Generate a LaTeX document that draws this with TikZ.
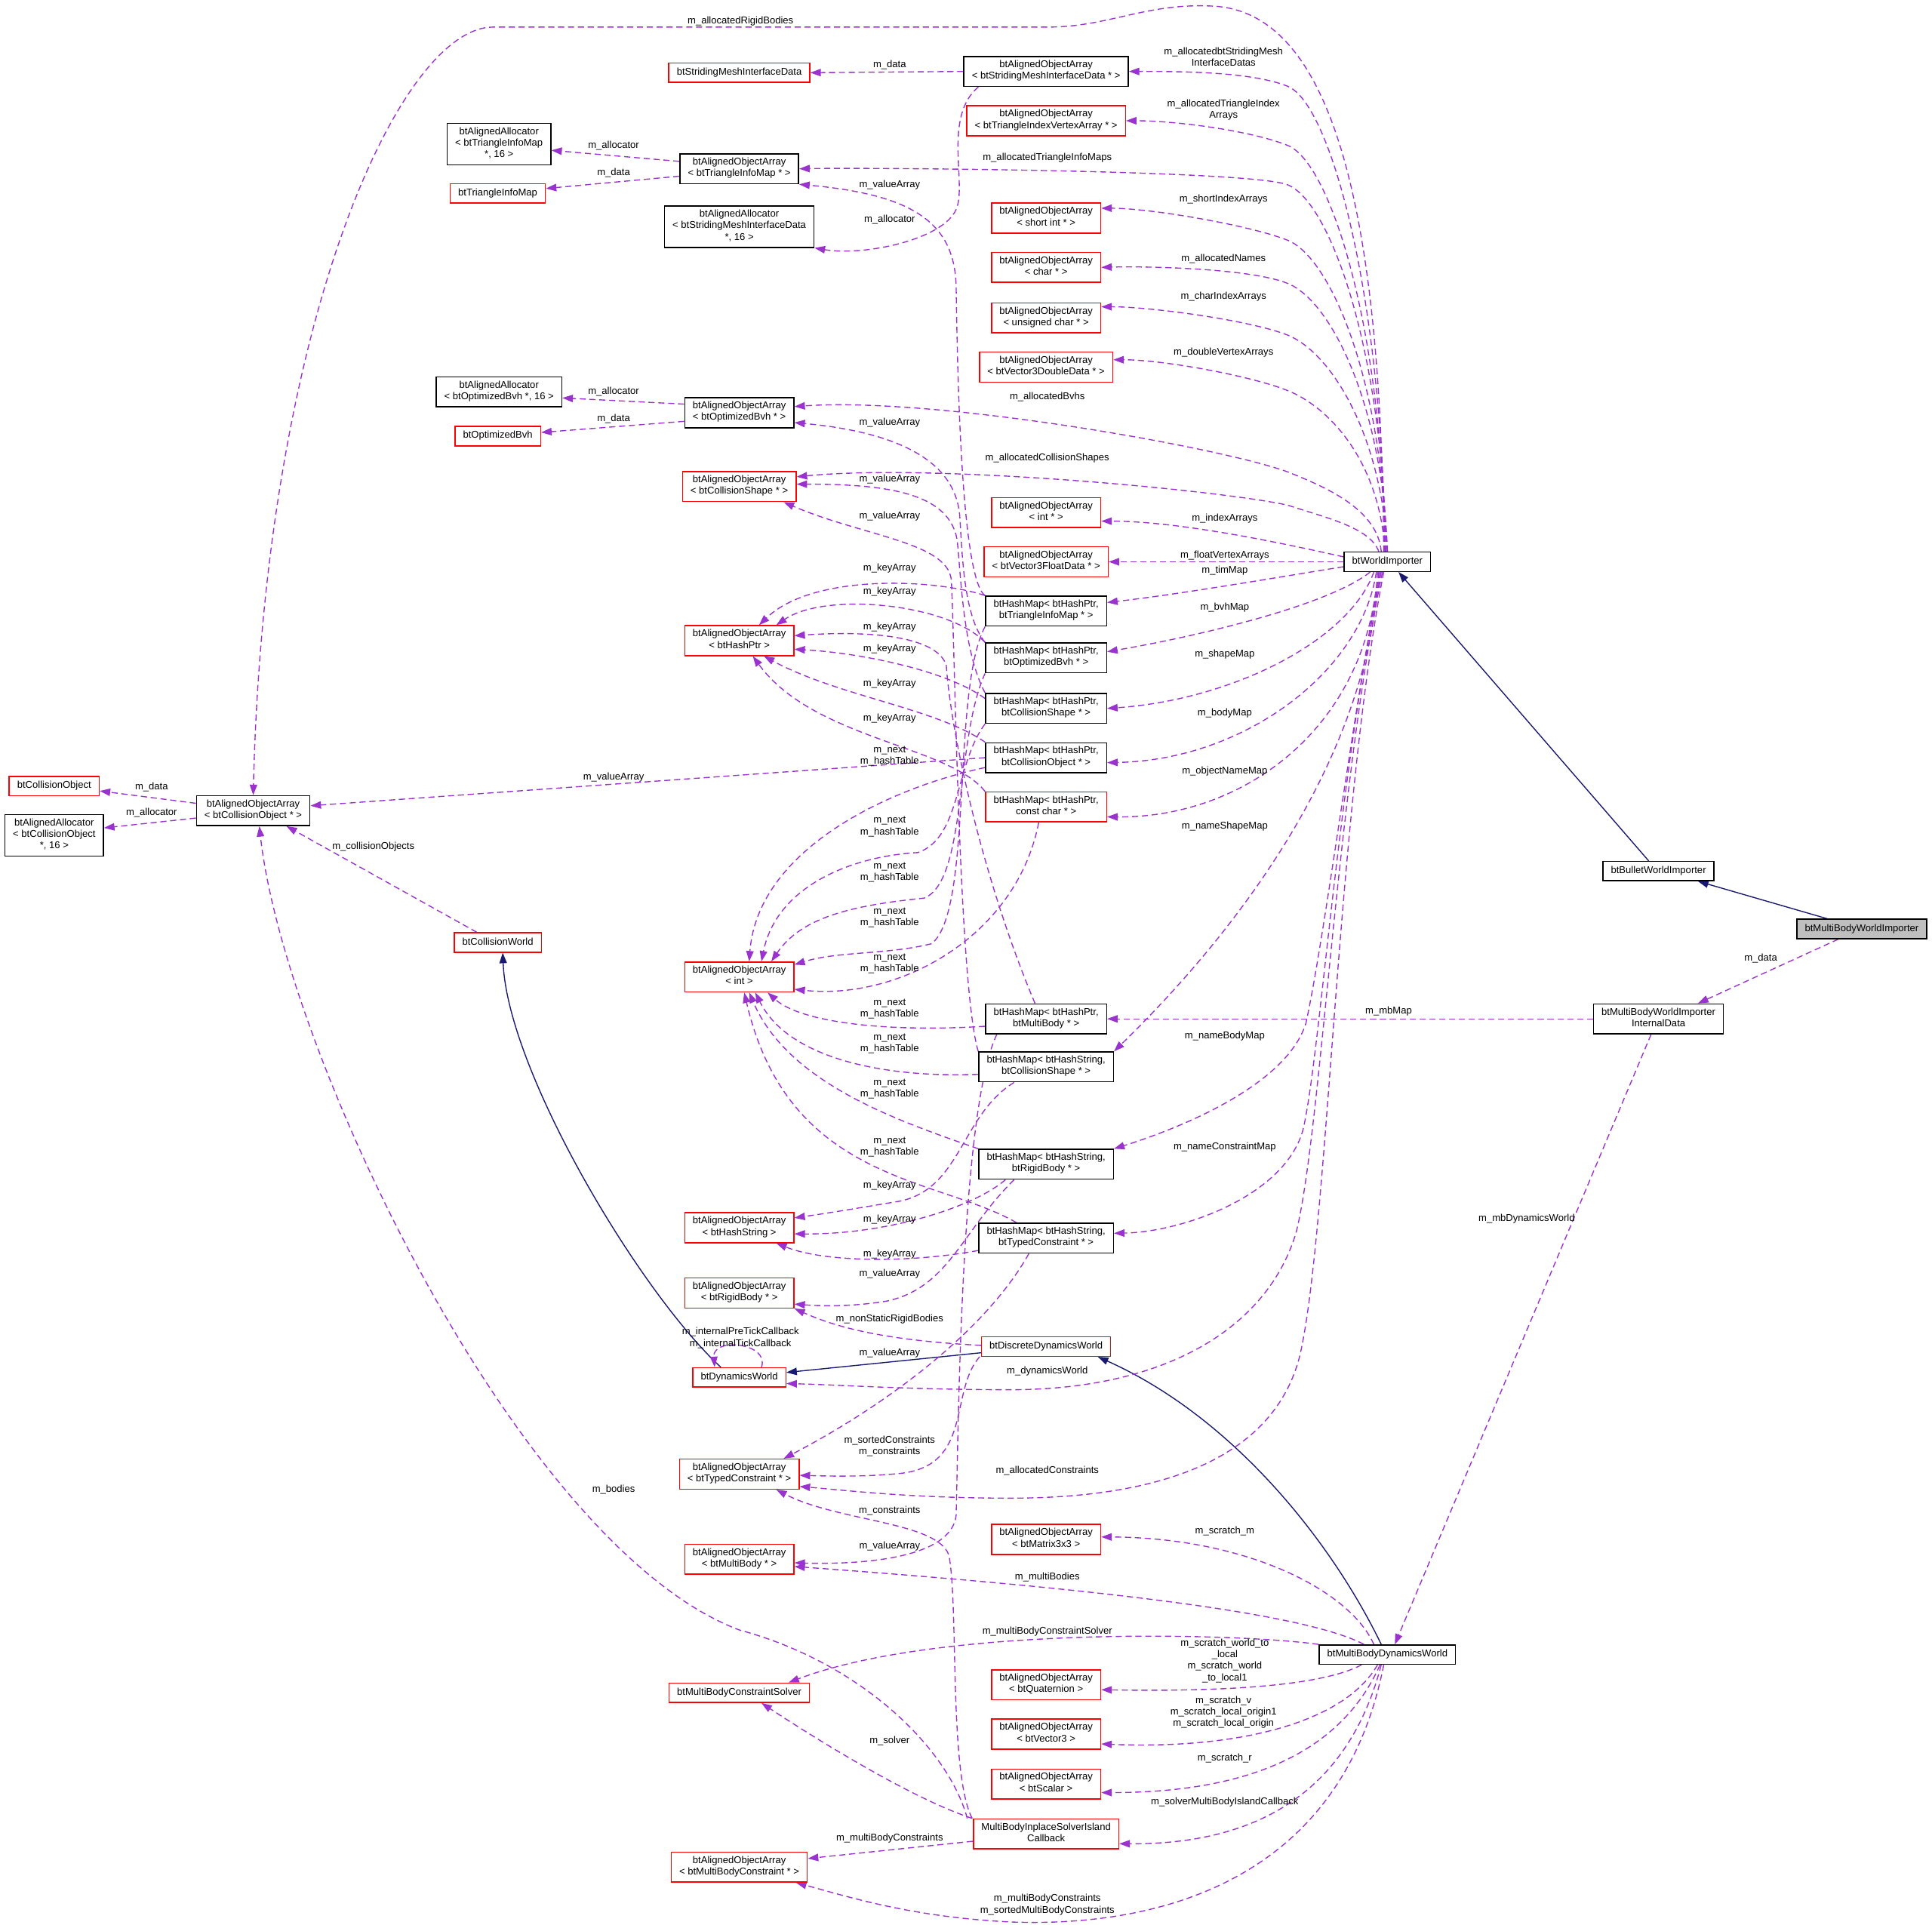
\documentclass[tikz,border=0pt]{standalone}
\usepackage{fontspec}
\setmainfont{Liberation Sans}
\usetikzlibrary{arrows.meta,backgrounds}
\definecolor{depline}{RGB}{154,50,205}
\definecolor{inhline}{RGB}{25,25,112}

\begin{document}
\begin{tikzpicture}[x=1pt, y=-1pt, font=\fontsize{8}{9.3}\selectfont,
  >={Triangle[length=8.5pt,width=6pt]},
  cls/.style={draw=black, fill=white, line width=0.9pt, inner xsep=6.5pt, inner ysep=3.2pt,
    align=center, execute at begin node=\strut, execute at end node=\strut},
  ucls/.style={cls, draw=red},
  dep/.style={->, draw=depline, line width=0.85pt, dash pattern=on 5pt off 3pt},
  inh/.style={->, draw=inhline, line width=0.85pt},
  lbl/.style={inner sep=0pt, align=center}]
\useasboundingbox (0,0) rectangle (1568,1562);

% importers
\node[cls] (wi) at (1126,456) {btWorldImporter};
\node[cls] (bwi) at (1346,707) {btBulletWorldImporter};
\node[cls, fill=gray!50] (mbwi) at (1511,754) {btMultiBodyWorldImporter};
\node[cls] (mbid) at (1346,827) {btMultiBodyWorldImporter\\InternalData};
\node[cls] (mbdw) at (1126,1343) {btMultiBodyDynamicsWorld};

% worlds
\node[ucls] (ddw) at (849,1093) {btDiscreteDynamicsWorld};
\node[ucls] (dw) at (600,1118) {btDynamicsWorld};
\node[ucls] (cw) at (404,765) {btCollisionWorld};

% left column
\node[cls] (aoaCO) at (205.5,658) {btAlignedObjectArray\\< btCollisionObject * >};
\node[ucls] (cobj) at (44,638) {btCollisionObject};
\node[cls] (allocCO) at (44,678) {btAlignedAllocator\\< btCollisionObject\\ *, 16 >};
\node[cls] (allocTIM) at (405,117) {btAlignedAllocator\\< btTriangleInfoMap\\ *, 16 >};
\node[ucls] (tim) at (404,157) {btTriangleInfoMap};
\node[cls] (allocBvh) at (405,318) {btAlignedAllocator\\< btOptimizedBvh *, 16 >};
\node[ucls] (bvh) at (404,354) {btOptimizedBvh};

% middle column
\node[ucls] (smid) at (600,59) {btStridingMeshInterfaceData};
\node[cls] (aoaTIM) at (600,137) {btAlignedObjectArray\\< btTriangleInfoMap * >};
\node[cls] (allocSMID) at (600,184) {btAlignedAllocator\\< btStridingMeshInterfaceData\\ *, 16 >};
\node[cls] (aoaBvh) at (600,335) {btAlignedObjectArray\\< btOptimizedBvh * >};
\node[ucls] (aoaCS) at (600,395) {btAlignedObjectArray\\< btCollisionShape * >};
\node[ucls] (aoaHP) at (600,520) {btAlignedObjectArray\\< btHashPtr >};
\node[ucls] (aoaInt) at (600,793) {btAlignedObjectArray\\< int >};
\node[ucls] (aoaHS) at (600,996.5) {btAlignedObjectArray\\< btHashString >};
\node[ucls] (aoaRB) at (600,1049.5) {btAlignedObjectArray\\< btRigidBody * >};
\node[ucls] (aoaTC) at (600,1196.5) {btAlignedObjectArray\\< btTypedConstraint * >};
\node[ucls] (aoaMB) at (600,1265.5) {btAlignedObjectArray\\< btMultiBody * >};
\node[ucls] (mbcs) at (600,1374) {btMultiBodyConstraintSolver};
\node[ucls] (aoaMBC) at (600,1515.5) {btAlignedObjectArray\\< btMultiBodyConstraint * >};

% right column
\node[cls] (aoaSMID) at (849,58) {btAlignedObjectArray\\< btStridingMeshInterfaceData * >};
\node[ucls] (aoaTIVA) at (849,98) {btAlignedObjectArray\\< btTriangleIndexVertexArray * >};
\node[ucls] (aoaShort) at (849,177) {btAlignedObjectArray\\< short int * >};
\node[ucls] (aoaChar) at (849,217) {btAlignedObjectArray\\< char * >};
\node[ucls] (aoaUChar) at (849,258) {btAlignedObjectArray\\< unsigned char * >};
\node[ucls] (aoaV3D) at (849,298) {btAlignedObjectArray\\< btVector3DoubleData * >};
\node[ucls] (aoaIntP) at (849,416) {btAlignedObjectArray\\< int * >};
\node[ucls] (aoaV3F) at (849,456) {btAlignedObjectArray\\< btVector3FloatData * >};
\node[cls] (hmTIM) at (849,496) {btHashMap< btHashPtr,\\ btTriangleInfoMap * >};
\node[cls] (hmBvh) at (849,534) {btHashMap< btHashPtr,\\ btOptimizedBvh * >};
\node[cls] (hmCS) at (849,575) {btHashMap< btHashPtr,\\ btCollisionShape * >};
\node[cls] (hmCO) at (849,615) {btHashMap< btHashPtr,\\ btCollisionObject * >};
\node[ucls] (hmCC) at (849,655) {btHashMap< btHashPtr,\\ const char * >};
\node[cls] (hmMB) at (849,827) {btHashMap< btHashPtr,\\ btMultiBody * >};
\node[cls] (hsCS) at (849,866) {btHashMap< btHashString,\\ btCollisionShape * >};
\node[cls] (hsRB) at (849,945) {btHashMap< btHashString,\\ btRigidBody * >};
\node[cls] (hsTC) at (849,1005) {btHashMap< btHashString,\\ btTypedConstraint * >};
\node[ucls] (aoaM33) at (849,1249.5) {btAlignedObjectArray\\< btMatrix3x3 >};
\node[ucls] (aoaQ) at (849,1367.5) {btAlignedObjectArray\\< btQuaternion >};
\node[ucls] (aoaV3) at (849,1407.5) {btAlignedObjectArray\\< btVector3 >};
\node[ucls] (aoaS) at (849,1448) {btAlignedObjectArray\\< btScalar >};
\node[ucls] (mbisc) at (849,1488.5) {MultiBodyInplaceSolverIsland\\Callback};

% edge labels
\node[lbl] (lRigid) at (601,17) {m\_allocatedRigidBodies};
\node[lbl] (lStriding) at (993,46) {m\_allocatedbtStridingMesh\\InterfaceDatas};
\node[lbl] (lTriIdx) at (993,89) {m\_allocatedTriangleIndex\\Arrays};
\node[lbl] (lTriInfo) at (850,128) {m\_allocatedTriangleInfoMaps};
\node[lbl] (lShortIdx) at (993,162) {m\_shortIndexArrays};
\node[lbl] (lNames) at (993,210) {m\_allocatedNames};
\node[lbl] (lCharIdx) at (993,241) {m\_charIndexArrays};
\node[lbl] (lDoubleV) at (993,286) {m\_doubleVertexArrays};
\node[lbl] (lBvhs) at (850,322) {m\_allocatedBvhs};
\node[lbl] (lCollShapes) at (850,372) {m\_allocatedCollisionShapes};
\node[lbl] (lIndexArr) at (994,421) {m\_indexArrays};
\node[lbl] (lFloatV) at (994,451) {m\_floatVertexArrays};
\node[lbl] (lTimMap) at (994,463) {m\_timMap};
\node[lbl] (lBvhMap) at (994,493) {m\_bvhMap};
\node[lbl] (lShapeMap) at (994,531) {m\_shapeMap};
\node[lbl] (lBodyMap) at (994,579) {m\_bodyMap};
\node[lbl] (lObjName) at (994,626) {m\_objectNameMap};
\node[lbl] (lNameShape) at (994,671) {m\_nameShapeMap};
\node[lbl] (lNameBody) at (994,841) {m\_nameBodyMap};
\node[lbl] (lNameCons) at (994,931) {m\_nameConstraintMap};
\node[lbl] (lDynWorld) at (850,1113) {m\_dynamicsWorld};
\node[lbl] (lAllocCons) at (850,1194) {m\_allocatedConstraints};
\node[lbl] (lSmidData) at (722,53) {m\_data};
\node[lbl] (lSmidAlloc) at (722,178) {m\_allocator};
\node[lbl] (lTimAlloc) at (498,118) {m\_allocator};
\node[lbl] (lTimData) at (498,140) {m\_data};
\node[lbl] (lTimValue) at (722,150) {m\_valueArray};
\node[lbl] (lBvhAlloc) at (498,318) {m\_allocator};
\node[lbl] (lBvhData) at (498,340) {m\_data};
\node[lbl] (lBvhValue) at (722,343) {m\_valueArray};
\node[lbl] (lCsValueA) at (722,389) {m\_valueArray};
\node[lbl] (lCsValueB) at (722,419) {m\_valueArray};
\node[lbl] (lKeyA) at (722,461) {m\_keyArray};
\node[lbl] (lKeyB) at (722,480) {m\_keyArray};
\node[lbl] (lKeyC) at (722,509) {m\_keyArray};
\node[lbl] (lKeyD) at (722,527) {m\_keyArray};
\node[lbl] (lKeyE) at (722,555) {m\_keyArray};
\node[lbl] (lKeyF) at (722,583) {m\_keyArray};
\node[lbl] (lNextA) at (722,614) {m\_next\\m\_hashTable};
\node[lbl] (lNextB) at (722,671) {m\_next\\m\_hashTable};
\node[lbl] (lNextC) at (722,708) {m\_next\\m\_hashTable};
\node[lbl] (lNextD) at (722,745) {m\_next\\m\_hashTable};
\node[lbl] (lNextE) at (722,782) {m\_next\\m\_hashTable};
\node[lbl] (lNextF) at (722,819) {m\_next\\m\_hashTable};
\node[lbl] (lNextG) at (722,847) {m\_next\\m\_hashTable};
\node[lbl] (lNextH) at (722,884) {m\_next\\m\_hashTable};
\node[lbl] (lNextI) at (722,931) {m\_next\\m\_hashTable};
\node[lbl] (lKeyG) at (722,962) {m\_keyArray};
\node[lbl] (lKeyH) at (722,990) {m\_keyArray};
\node[lbl] (lKeyI) at (722,1018) {m\_keyArray};
\node[lbl] (lRbValue) at (722,1034) {m\_valueArray};
\node[lbl] (lNonStatic) at (722,1071) {m\_nonStaticRigidBodies};
\node[lbl] (lTick) at (601,1086) {m\_internalPreTickCallback\\m\_internalTickCallback};
\node[lbl] (lTcValue) at (722,1098) {m\_valueArray};
\node[lbl] (lSorted) at (722,1174) {m\_sortedConstraints\\m\_constraints};
\node[lbl] (lCons) at (722,1226) {m\_constraints};
\node[lbl] (lMbValue) at (722,1255) {m\_valueArray};
\node[lbl] (lScratchM) at (994,1243) {m\_scratch\_m};
\node[lbl] (lMultiBodies) at (850,1280) {m\_multiBodies};
\node[lbl] (lSolverMB) at (850,1324) {m\_multiBodyConstraintSolver};
\node[lbl] (lScratchW) at (994,1348) {m\_scratch\_world\_to\\\_local\\m\_scratch\_world\\\_to\_local1};
\node[lbl] (lScratchV) at (993,1390) {m\_scratch\_v\\m\_scratch\_local\_origin1\\m\_scratch\_local\_origin};
\node[lbl] (lScratchR) at (994,1427) {m\_scratch\_r};
\node[lbl] (lIsland) at (994,1463) {m\_solverMultiBodyIslandCallback};
\node[lbl] (lSolver) at (722,1413) {m\_solver};
\node[lbl] (lMbCons) at (722,1492) {m\_multiBodyConstraints};
\node[lbl] (lMbConsSorted) at (850,1546) {m\_multiBodyConstraints\\m\_sortedMultiBodyConstraints};
\node[lbl] (lBodies) at (498,1209) {m\_bodies};
\node[lbl] (lCollObj) at (303,687) {m\_collisionObjects};
\node[lbl] (lCoData) at (123,639) {m\_data};
\node[lbl] (lCoAlloc) at (123,660) {m\_allocator};
\node[lbl] (lCoValue) at (498,631) {m\_valueArray};
\node[lbl] (lMbwiData) at (1429,778) {m\_data};
\node[lbl] (lMbMap) at (1127,821) {m\_mbMap};
\node[lbl] (lMbDyn) at (1239,989) {m\_mbDynamicsWorld};

\begin{scope}[on background layer]
% inheritance
\draw[inh] ([xshift=-28pt]mbwi.north) -- ([xshift=32pt]bwi.south);
\draw[inh] ([xshift=-8pt]bwi.north) -- ([xshift=9pt]wi.south);
\draw[inh] ([xshift=-5pt]mbdw.north) .. controls (1080,1250) and (1000,1150) .. ([xshift=42pt]ddw.south);
\draw[inh] ([yshift=-5pt]ddw.west) -- ([yshift=4pt]dw.east);
\draw[inh] ([xshift=-15pt]dw.north) .. controls (520,1050) and (412,870) .. ([xshift=4pt]cw.south);

% btWorldImporter members, upper fan
\draw[dep] ([xshift=-3pt]wi.north) .. controls (1121,150) and (1075,10) .. (985,5) .. controls (930,2) and (900,22) .. (850,22) -- (400,22) .. controls (325,22) and (215,260) .. (aoaCO.north);
\draw[dep] ([xshift=-2pt]wi.north) .. controls (1122,240) and (1080,84) .. (1045,70) .. controls (1015,58) and (957,58) .. (aoaSMID.east);
\draw[dep] ([xshift=-2pt]wi.north) .. controls (1122,267) and (1080,132) .. (1045,118) .. controls (1015,106) and (954,98) .. (aoaTIVA.east);
\draw[dep] ([xshift=-1pt]wi.north) .. controls (1122,285) and (1080,164) .. (1045,150) .. controls (1015,138) and (700,136) .. (aoaTIM.east);
\draw[dep] ([xshift=-1pt]wi.north) .. controls (1122,309) and (1080,209) .. (1045,195) .. controls (1015,183) and (934,169) .. ([yshift=8pt]aoaShort.east);
\draw[dep] (wi.north) .. controls (1122,328) and (1080,244) .. (1045,230) .. controls (1015,218) and (934,216) .. (aoaChar.east);
\draw[dep] (wi.north) .. controls (1121,352) and (1080,286) .. (1045,272) .. controls (1015,260) and (934,249) .. ([yshift=9pt]aoaUChar.east);
\draw[dep] ([xshift=-2pt]wi.north) .. controls (1120,376) and (1080,331) .. (1045,317) .. controls (1015,305) and (944,292) .. ([yshift=6pt]aoaV3D.east);
\draw[dep] ([xshift=-5pt]wi.north) .. controls (1118,413) and (1075,395) .. (1045,383) .. controls (990,363) and (760,322) .. ([yshift=5pt]aoaBvh.east);
\draw[dep] ([xshift=-7pt]wi.north) .. controls (1112,428) and (1075,420) .. (1045,410) .. controls (990,398) and (760,376) .. ([yshift=8pt]aoaCS.east);
\draw[dep] ([yshift=4pt]wi.west) .. controls (1050,443) and (960,423) .. ([yshift=-7pt]aoaIntP.east);
\draw[dep] (wi.west) -- (aoaV3F.east);

% btWorldImporter members, lower fan
\draw[dep] ([yshift=-4pt]wi.west) .. controls (1040,468) and (960,482) .. ([yshift=7pt]hmTIM.east);
\draw[dep] ([xshift=-14pt]wi.south) .. controls (1080,490) and (980,515) .. ([yshift=5pt]hmBvh.east);
\draw[dep] ([xshift=-11pt]wi.south) .. controls (1095,520) and (1000,568) .. (hmCS.east);
\draw[dep] ([xshift=-9pt]wi.south) .. controls (1105,545) and (1010,617) .. ([yshift=-4pt]hmCO.east);
\draw[dep] ([xshift=-8pt]wi.south) .. controls (1110,590) and (1010,664) .. ([yshift=-8pt]hmCC.east);
\draw[dep] ([xshift=-7pt]wi.south) .. controls (1110,620) and (1000,760) .. (hsCS.north east);
\draw[dep] ([xshift=-6pt]wi.south) .. controls (1095,600) and (1075,760) .. (1060,830) .. controls (1045,880) and (960,915) .. (hsRB.north east);
\draw[dep] ([xshift=-5pt]wi.south) .. controls (1085,640) and (1072,850) .. (1058,915) .. controls (1045,970) and (960,1000) .. ([yshift=4pt]hsTC.east);
\draw[dep] ([xshift=-4pt]wi.south) .. controls (1085,640) and (1072,920) .. (1052,1000) .. controls (1030,1075) and (950,1128) .. (820,1128) .. controls (740,1128) and (680,1124) .. ([yshift=-5pt]dw.east);
\draw[dep] ([xshift=-3pt]wi.south) .. controls (1085,660) and (1078,1000) .. (1055,1100) .. controls (1035,1180) and (950,1216) .. (820,1216) .. controls (740,1216) and (690,1210) .. ([yshift=-10pt]aoaTC.east);

% importer internals
\draw[dep] ([xshift=-19pt]mbwi.south) -- ([xshift=32pt]mbid.north);
\draw[dep] (mbid.west) -- (hmMB.east);
\draw[dep] ([xshift=-6pt]mbid.south) -- ([xshift=6pt]mbdw.north);

% array internals
\draw[dep] (aoaSMID.west) -- (smid.east);
\draw[dep] ([xshift=-55pt]aoaSMID.south) .. controls (765,95) and (785,150) .. (776,170) .. controls (765,195) and (700,208) .. (allocSMID.south east);
\draw[dep] ([yshift=6pt]aoaTIM.west) -- ([yshift=-5pt]allocTIM.east);
\draw[dep] ([yshift=-6pt]aoaTIM.west) -- ([yshift=4pt]tim.east);
\draw[dep] ([yshift=7pt]aoaBvh.west) -- ([yshift=-5pt]allocBvh.east);
\draw[dep] ([yshift=-7pt]aoaBvh.west) -- ([yshift=3pt]bvh.east);
\draw[dep] ([yshift=6pt]aoaCO.west) -- ([yshift=-4pt]cobj.east);
\draw[dep] ([yshift=-6pt]aoaCO.west) -- ([yshift=6pt]allocCO.east);
\draw[dep] ([xshift=-17pt]cw.north) -- ([xshift=27pt]aoaCO.south);
\draw[dep] (hmCO.west) -- ([yshift=4pt]aoaCO.east);

% hash map values
\draw[dep] (hmTIM.north west) .. controls (780,470) and (777,300) .. (776,233) .. controls (775,180) and (740,158) .. (aoaTIM.south east);
\draw[dep] (hmBvh.north west) .. controls (782,500) and (781,450) .. (779,420) .. controls (776,370) and (720,350) .. ([yshift=-8pt]aoaBvh.east);
\draw[dep] (hmCS.north west) .. controls (782,530) and (780,470) .. (777,440) .. controls (772,400) and (720,393) .. ([yshift=2pt]aoaCS.east);
\draw[dep] (hsCS.north west) .. controls (778,800) and (775,520) .. (772,470) .. controls (768,440) and (700,435) .. ([xshift=36pt]aoaCS.south);
\draw[dep] ([xshift=-40pt]hmMB.south) .. controls (780,900) and (778,1150) .. (776,1230) .. controls (772,1265) and (700,1270) .. ([yshift=-3pt]aoaMB.east);
\draw[dep] ([xshift=-26pt]hsRB.south) .. controls (780,1000) and (770,1045) .. (720,1056) .. controls (690,1061) and (665,1060) .. ([yshift=-9pt]aoaRB.east);
\draw[dep] ([xshift=-14pt]hsTC.south) .. controls (800,1080) and (720,1140) .. ([xshift=36pt]aoaTC.north);

% hash map keys
\draw[dep] (hmTIM.north west) .. controls (760,470) and (660,465) .. ([xshift=16pt]aoaHP.north);
\draw[dep] (hmBvh.north west) .. controls (770,490) and (670,480) .. ([xshift=30pt]aoaHP.north);
\draw[dep] ([xshift=-9pt]hmMB.north) .. controls (800,720) and (772,600) .. (768,540) .. controls (760,515) and (700,512) .. ([yshift=4pt]aoaHP.east);
\draw[dep] ([yshift=8pt]hmCS.west) .. controls (770,545) and (700,530) .. ([yshift=-7pt]aoaHP.east);
\draw[dep] (hmCO.north west) .. controls (760,575) and (680,565) .. ([xshift=20pt]aoaHP.south);
\draw[dep] (hmCC.north west) .. controls (770,605) and (660,600) .. ([xshift=11pt]aoaHP.south);
\draw[dep] ([xshift=-26pt]hsCS.south) .. controls (780,905) and (780,965) .. (730,975) .. controls (700,980) and (670,985) .. ([yshift=8pt]aoaHS.east);
\draw[dep] ([xshift=-33pt]hsRB.south) .. controls (790,980) and (720,1002) .. ([yshift=-5pt]aoaHS.east);
\draw[dep] ([yshift=-10pt]hsTC.west) .. controls (740,1025) and (670,1025) .. ([xshift=30pt]aoaHS.south);

% hash map tables
\draw[dep] ([yshift=-8pt]hmCO.west) .. controls (720,640) and (615,690) .. ([xshift=8pt]aoaInt.north);
\draw[dep] (hmCS.south west) .. controls (775,620) and (780,680) .. (745,692) .. controls (690,695) and (630,720) .. ([xshift=18pt]aoaInt.north);
\draw[dep] (hmBvh.south west) .. controls (775,600) and (785,715) .. (750,729) .. controls (690,735) and (650,745) .. ([xshift=26pt]aoaInt.north);
\draw[dep] (hmTIM.south west) .. controls (772,560) and (790,740) .. (756,766) .. controls (720,775) and (680,772) .. ([yshift=10pt]aoaInt.east);
\draw[dep] ([xshift=-6pt]hmCC.south) .. controls (825,760) and (730,812) .. ([yshift=-10pt]aoaInt.east);
\draw[dep] ([yshift=-6pt]hmMB.west) .. controls (720,838) and (650,830) .. ([xshift=23pt]aoaInt.south);
\draw[dep] ([yshift=-6pt]hsCS.west) .. controls (720,875) and (640,860) .. ([xshift=13pt]aoaInt.south);
\draw[dep] (hsRB.north west) .. controls (730,910) and (640,880) .. ([xshift=8pt]aoaInt.south);
\draw[dep] ([xshift=-24pt]hsTC.north) .. controls (760,955) and (640,960) .. ([xshift=4pt]aoaInt.south);

% dynamics worlds
\draw[dep] ([yshift=1pt]ddw.west) .. controls (720,1088) and (680,1078) .. (aoaRB.south east);
\draw[dep] ([xshift=-54pt]ddw.south) .. controls (770,1130) and (790,1190) .. (730,1196) .. controls (700,1199) and (670,1198) .. ([yshift=-1pt]aoaTC.east);
\draw[dep] ([xshift=18pt]dw.north) .. controls (625,1090) and (578,1085) .. ([xshift=-20pt]dw.north);

% island callback
\draw[dep] ([xshift=-60pt]mbisc.north) .. controls (770,1440) and (778,1300) .. (770,1262) .. controls (760,1235) and (680,1235) .. ([xshift=30pt]aoaTC.south);
\draw[dep] ([xshift=-64pt]mbisc.north) .. controls (770,1420) and (700,1350) .. (600,1323) .. controls (420,1255) and (230,850) .. ([xshift=5pt]aoaCO.south);
\draw[dep] ([xshift=-60pt]mbisc.north) .. controls (740,1460) and (660,1410) .. ([xshift=18pt]mbcs.south);
\draw[dep] ([yshift=-6pt]mbisc.west) -- ([yshift=7pt]aoaMBC.east);

% btMultiBodyDynamicsWorld members
\draw[dep] ([xshift=-11pt]mbdw.north) .. controls (1095,1290) and (1010,1248) .. ([yshift=2pt]aoaM33.east);
\draw[dep] ([xshift=-19pt]mbdw.north) .. controls (1060,1310) and (900,1290) .. ([yshift=-6pt]aoaMB.east);
\draw[dep] (mbdw.north west) .. controls (1000,1325) and (760,1320) .. ([xshift=40pt]mbcs.north);
\draw[dep] ([xshift=-21pt]mbdw.south) .. controls (1070,1370) and (980,1373) .. ([yshift=-4pt]aoaQ.east);
\draw[dep] ([xshift=-8pt]mbdw.south) .. controls (1090,1400) and (1000,1420) .. ([yshift=-8pt]aoaV3.east);
\draw[dep] ([xshift=-6pt]mbdw.south) .. controls (1085,1430) and (1000,1455) .. ([yshift=-7pt]aoaS.east);
\draw[dep] ([xshift=-5pt]mbdw.south) .. controls (1090,1470) and (1000,1497) .. ([yshift=-8pt]mbisc.east);
\draw[dep] ([xshift=-3pt]mbdw.south) .. controls (1090,1520) and (950,1565) .. (820,1560) .. controls (740,1556) and (690,1540) .. ([xshift=46pt]aoaMBC.south);
\end{scope}
\end{tikzpicture}
\end{document}
